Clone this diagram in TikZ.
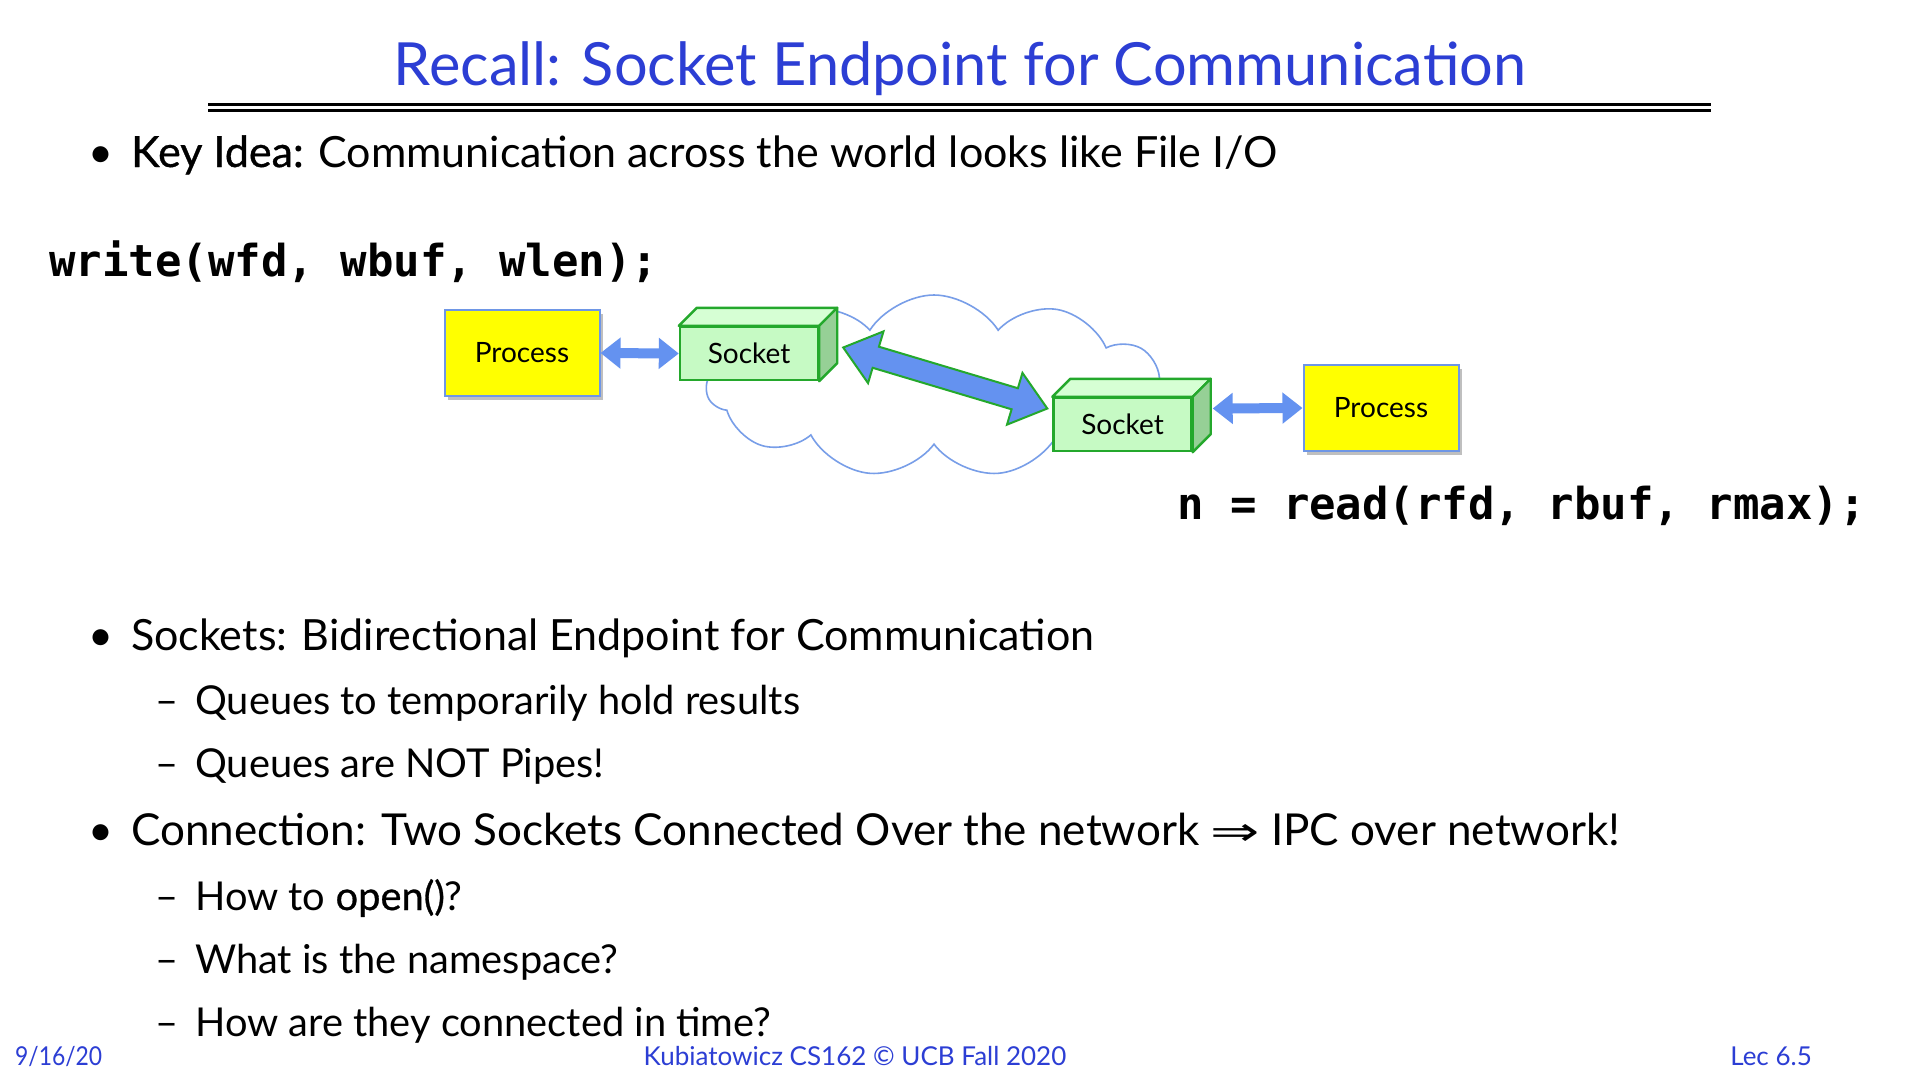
\documentclass[tikz,border=0pt]{standalone}
\usepackage{fontspec}
\setmainfont{Lato}
\newfontfamily\medfont[FakeBold=0.8]{Lato}
\newfontfamily\symfont{DejaVu Sans}
\newfontfamily\codefont{DejaVu Sans Mono}
\usetikzlibrary{calc,shapes.symbols,shadows,arrows.meta}

\newcommand\fsz[1]{\fontsize{#1}{#1}\selectfont}
\newcommand\implarrow{\scalebox{1.55}[1.05]{\symfont\fsz{38}⇒}}

\definecolor{titleblue}{RGB}{44,62,212}
\definecolor{arrowblue}{RGB}{100,146,240}
\definecolor{cloudblue}{RGB}{120,158,232}
\definecolor{boxblue}{RGB}{110,150,230}
\definecolor{sockgreen}{RGB}{36,168,44}
\definecolor{sockfill}{RGB}{198,250,196}
\definecolor{socktop}{RGB}{214,255,212}
\definecolor{sockright}{RGB}{150,208,150}
\definecolor{procyellow}{RGB}{255,255,0}

\tikzset{
  titletext/.style={inner sep=0pt, text=titleblue, font=\fsz{59.5}},
  rule/.style={line width=3pt, black},
  bodytext/.style={inner sep=0pt, anchor=base west, font=\fsz{43}},
  subtext/.style={inner sep=0pt, anchor=base west, font=\fsz{39.8}},
  foot/.style={inner sep=0pt, anchor=base west, text=titleblue, font=\fsz{26}},
  codetext/.style={inner sep=0pt, font=\codefont\bfseries\fsz{44}},
  procbox/.style={draw=boxblue, line width=2pt, fill=procyellow,
    minimum width=155pt, minimum height=86pt, inner sep=0pt, font=\fsz{28},
    drop shadow={shadow xshift=3pt, shadow yshift=-4pt, fill=black, opacity=0.25}},
  sockfront/.style={draw=sockgreen, line width=2.4pt, fill=sockfill,
    minimum width=138pt, minimum height=53pt, inner sep=0pt, font=\fsz{28}},
  sockface/.style={draw=sockgreen, line width=2.4pt, line join=round},
  smallarrow/.style={draw=arrowblue, line width=10pt,
    {Triangle[width=30pt,length=20pt]}-{Triangle[width=30pt,length=20pt]}},
  bigarrow/.style={fill=arrowblue, draw=sockgreen, line width=2pt, line join=miter},
  netcloud/.style={cloud, cloud puffs=11, cloud puff arc=115, aspect=2.4,
    draw=cloudblue, line width=1.6pt, fill=white,
    minimum width=455pt, minimum height=182pt, inner sep=0pt}
}

\begin{document}
\begin{tikzpicture}[x=1pt,y=-1pt]
\useasboundingbox[fill=white] (0,0) rectangle (1920,1080);

% heading and double rule
\node[titletext, anchor=base] (title) at (960,85) {Recall: Socket Endpoint for Communication};
\draw[rule] (208,104) -- (1711,104);
\draw[rule] (208,110) -- (1711,110);

% first bullet
\node[bodytext] (b1dot) at (88,167) {•};
\node[bodytext] (b1) at (131,167) {{\medfont Key Idea:} Communication across the world looks like File I/O};

% code lines
\node[codetext, anchor=base west] (wcall) at (49,276) {write(wfd, wbuf, wlen);};
\node[codetext, anchor=base east] (rcall) at (1866,519) {n = read(rfd, rbuf, rmax);};

% network cloud behind the sockets
\node[netcloud] (net) at (934,386) {};

% processes
\node[procbox] (p1) at (522,353) {Process};
\node[procbox] (p2) at (1381,408) {Process};

% sockets: front face plus top and right faces
\node[sockfront] (s1) at (749,353.5) {Socket};
\draw[sockface, fill=socktop] (s1.north west) -- ++(18,-18) -- ($(s1.north east)+(18,-18)$) -- (s1.north east) -- cycle;
\draw[sockface, fill=sockright] (s1.north east) -- ++(18,-18) -- ($(s1.south east)+(18,-18)$) -- (s1.south east) -- cycle;

\node[sockfront] (s2) at (1122.5,424.5) {Socket};
\draw[sockface, fill=socktop] (s2.north west) -- ++(18,-18) -- ($(s2.north east)+(18,-18)$) -- (s2.north east) -- cycle;
\draw[sockface, fill=sockright] (s2.north east) -- ++(18,-18) -- ($(s2.south east)+(18,-18)$) -- (s2.south east) -- cycle;

% process <-> socket links
\coordinate (s2r) at ($(s2.east)+(20,-16)$);
\draw[smallarrow] (p1.east) -- (s1.west);
\draw[smallarrow] (s2r) -- (p2.west);

% socket <-> socket over the network
\coordinate (a1) at ($(s1.east)+(24,-6)$);
\coordinate (a2) at ($(s2.west)+(-5,-16)$);
\draw[bigarrow] (a1)
  -- ($(a1)!34pt!(a2)!27pt!90:(a2)$)
  -- ($(a1)!34pt!(a2)!11pt!90:(a2)$)
  -- ($(a2)!34pt!(a1)!11pt!-90:(a1)$)
  -- ($(a2)!34pt!(a1)!27pt!-90:(a1)$)
  -- (a2)
  -- ($(a2)!34pt!(a1)!27pt!90:(a1)$)
  -- ($(a2)!34pt!(a1)!11pt!90:(a1)$)
  -- ($(a1)!34pt!(a2)!11pt!-90:(a2)$)
  -- ($(a1)!34pt!(a2)!27pt!-90:(a2)$)
  -- cycle;

% remaining bullets
\node[bodytext] (b2dot) at (88,650) {•};
\node[bodytext] (b2) at (131,650) {Sockets: Bidirectional Endpoint for Communication};
\node[subtext] (b2ad) at (155,714) {–};
\node[subtext] (b2a) at (195,714) {Queues to temporarily hold results};
\node[subtext] (b2bd) at (155,777) {–};
\node[subtext] (b2b) at (195,777) {Queues are NOT Pipes!};

\node[bodytext] (b3dot) at (88,845) {•};
\node[bodytext, font=\fsz{44}] (b3) at (131,845) {Connection: Two Sockets Connected Over the network \implarrow\ IPC over network!};
\node[subtext] (b3ad) at (155,910) {–};
\node[subtext] (b3a) at (195,910) {How to {\medfont open()}?};
\node[subtext] (b3bd) at (155,973) {–};
\node[subtext] (b3b) at (195,973) {What is the namespace?};
\node[subtext] (b3cd) at (155,1036) {–};
\node[subtext] (b3c) at (195,1036) {How are they connected in time?};

% footer
\node[foot] (fdate) at (15,1065) {\scalebox{0.88}[1]{9/16/20}};
\node[foot, anchor=base] (fmid) at (855,1065) {Kubiatowicz CS162 © UCB Fall 2020};
\node[foot, anchor=base east] (flec) at (1812,1065) {Lec 6.5};
\end{tikzpicture}
\end{document}
